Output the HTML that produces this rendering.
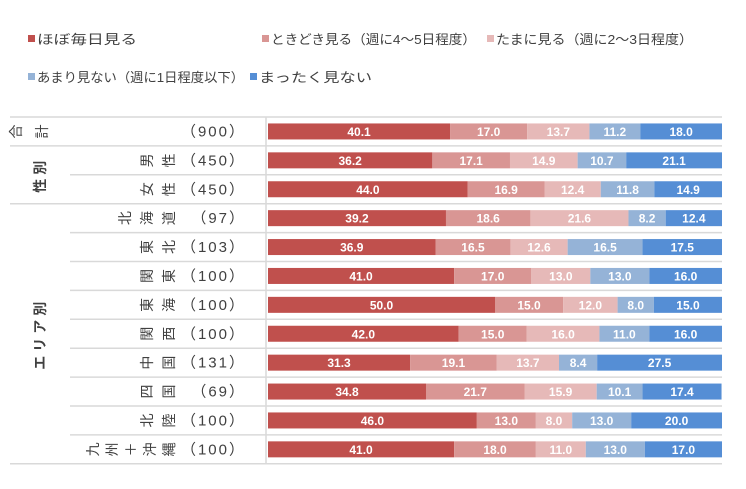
<!DOCTYPE html>
<html><head><meta charset="utf-8"><style>
body{margin:0;background:#fff;}
svg{display:block;font-family:"Liberation Sans","Noto Sans CJK JP",sans-serif;}
</style></head><body>
<svg id="chart" width="746" height="489" viewBox="0 0 746 489"></svg>
<script>
const categories=["合計","男性","女性","北海道","東北","関東","東海","関西","中国","四国","北陸","九州・沖縄"];
const catLabels=["合計","男性","女性","北海道","東北","関東","東海","関西","中国","四国","北陸","九州＋沖縄"];
const counts=["900","450","450","97","103","100","100","100","131","69","100","100"];
const seriesNames=["ほぼ毎日見る","ときどき見る（週に4～5日程度）","たまに見る（週に2～3日程度）","あまり見ない（週に1日程度以下）","まったく見ない"];
const s1=[40.1,36.2,44.0,39.2,36.9,41.0,50.0,42.0,31.3,34.8,46.0,41.0];
const s2=[17.0,17.1,16.9,18.6,16.5,17.0,15.0,15.0,19.1,21.7,13.0,18.0];
const s3=[13.7,14.9,12.4,21.6,12.6,13.0,12.0,16.0,13.7,15.9,8.0,11.0];
const s4=[11.2,10.7,11.8,8.2,16.5,13.0,8.0,11.0,8.4,10.1,13.0,13.0];
const s5=[18.0,21.1,14.9,12.4,17.5,16.0,15.0,16.0,27.5,17.4,20.0,17.0];
const series=[s1,s2,s3,s4,s5];
const colors=["#c0504d","#d99694","#e6b9b8","#95b3d7","#558ed5"];
const NS="http://www.w3.org/2000/svg";
const svg=document.getElementById('chart');
function mk(t,a,p){const e=document.createElementNS(NS,t);for(const k in a)e.setAttribute(k,a[k]);(p||svg).appendChild(e);return e;}
const x0=268,W=454,top0=117,pitch=28.9,bh=16;
const xs=v=>x0+v/100*W;
const yc=i=>top0+pitch*(i+0.5);
// legend
const legPos=[[28,40],[262,40],[487,40],[28,78],[250,78]];
const legLen=[100,205,197,207,113];
seriesNames.forEach((n,k)=>{
 const g=mk('g',{});
 
 
 const r=mk('rect',{x:legPos[k][0],y:legPos[k][1]-5,width:7,height:7,fill:colors[k]},g);
 
 
 const t=mk('text',{x:legPos[k][0]+9,y:legPos[k][1]+4,'font-size':13,fill:'#404040',textLength:legLen[k],lengthAdjust:'spacingAndGlyphs'},g);
 t.textContent=n;
});
const lineY=i=>top0+pitch*i;
for(let i=0;i<=categories.length;i++){
 let xStart=10;
 if(i==2||(i>=4&&i<=11)) xStart=70;
 const l=mk('line',{x1:xStart,x2:722,y1:lineY(i),y2:lineY(i),stroke:'#d9d9d9','stroke-width':1.5});
 
 
}
const vl=mk('line',{x1:266,x2:266,y1:lineY(0),y2:lineY(12),stroke:'#d9d9d9','stroke-width':1.5});


function rotChars(str,xEnd,y,gap,name){
 const chars=[...str];
 const n=chars.length;
 chars.forEach((c,j)=>{
  const cx=xEnd-(n-1-j)*gap;
  const t=mk('text',{x:cx,y:y,'font-size':14,fill:'#404040','text-anchor':'middle','dominant-baseline':'central',transform:`rotate(-90 ${cx} ${y})`});
  
  
  t.textContent=c;
 });
}
function rotText(str,x,y,name){
 const t=mk('text',{x:x,y:y,'font-size':14,fill:'#404040','font-weight':'bold','text-anchor':'middle','dominant-baseline':'central','letter-spacing':'4',transform:`rotate(-90 ${x} ${y})`});
 
 
 t.textContent=str;
}
rotChars("合計",42,yc(0),26,'total-label');
rotText("性別",40,(yc(1)+yc(2))/2,'gender-group-label');
rotText("エリア別",40,(yc(3)+yc(11))/2,'area-group-label');
categories.forEach((c,i)=>{
 if(i>0){
  const lab=catLabels[i];
  const gap=lab.length>=4?19:22;
  rotChars(lab,169,yc(i),gap,'category-label');
 }
 const t=mk('text',{x:246,y:yc(i)+5,'font-size':15,fill:'#404040','text-anchor':'end','letter-spacing':'2'});
 
 
 t.textContent='（'+counts[i]+'）';
 let acc=0;
 series.forEach((s,k)=>{
  const v=s[i];
  const r=mk('rect',{x:xs(acc),y:yc(i)-bh/2,width:xs(acc+v)-xs(acc),height:bh,fill:colors[k]});
  
  
  const lt=mk('text',{x:(xs(acc)+xs(acc+v))/2,y:yc(i)+4.5,'font-size':12,'font-weight':'bold',fill:'#fff','text-anchor':'middle'});
  
  
  lt.textContent=v.toFixed(1);
  acc+=v;
 });
});
</script>
</body></html>
